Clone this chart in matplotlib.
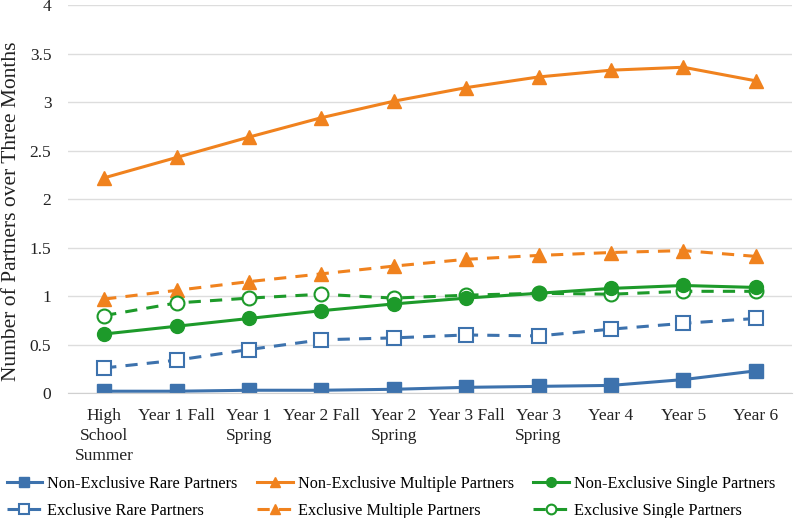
import matplotlib
matplotlib.use("Agg")
from matplotlib import pyplot as plt
import numpy as np

plt.rcParams['font.family'] = ['Liberation Serif', 'DejaVu Serif']

waves = ["High\nSchool\nSummer", "Year 1 Fall", "Year 1\nSpring", "Year 2 Fall",
         "Year 2\nSpring", "Year 3 Fall", "Year 3\nSpring", "Year 4", "Year 5", "Year 6"]

ne_rare = [0.02, 0.02, 0.03, 0.03, 0.04, 0.06, 0.07, 0.08, 0.14, 0.23]
ne_multiple = [2.22, 2.43, 2.64, 2.84, 3.01, 3.15, 3.26, 3.33, 3.36, 3.22]
ne_single = [0.61, 0.69, 0.77, 0.85, 0.92, 0.98, 1.03, 1.08, 1.11, 1.09]
ex_rare = [0.26, 0.34, 0.45, 0.55, 0.57, 0.60, 0.59, 0.66, 0.72, 0.77]
ex_multiple = [0.97, 1.06, 1.15, 1.23, 1.31, 1.38, 1.42, 1.45, 1.47, 1.41]
ex_single = [0.80, 0.93, 0.98, 1.02, 0.98, 1.01, 1.03, 1.02, 1.05, 1.05]

blue = '#3d72ad'
orange = '#f0821e'
green = '#1d9a2a'

x = np.arange(len(waves))

fig = plt.figure(figsize=(8, 5.18), dpi=100)
ax = fig.add_axes([0.085, 0.241, 0.905, 0.749])

lw = 2.2
dash = (0, (4, 3))
h_ner, = ax.plot(x, ne_rare, color=blue, lw=lw, marker='s', ms=10, label='Non-Exclusive Rare Partners')
h_er, = ax.plot(x, ex_rare, color=blue, lw=lw, ls=dash, marker='s', ms=10, mfc='white',
                mew=1.5, label='Exclusive Rare Partners')
h_nem, = ax.plot(x, ne_multiple, color=orange, lw=lw, marker='^', ms=10, label='Non-Exclusive Multiple Partners')
h_em, = ax.plot(x, ex_multiple, color=orange, lw=lw, ls=dash, marker='^', ms=10,
                label='Exclusive Multiple Partners')
h_es, = ax.plot(x, ex_single, color=green, lw=lw, ls=dash, marker='o', ms=10, mfc='white',
                mew=1.5, label='Exclusive Single Partners')
h_nes, = ax.plot(x, ne_single, color=green, lw=lw, marker='o', ms=10, label='Non-Exclusive Single Partners')

ax.set_ylim(0, 4)
ax.set_xlim(-0.5, 9.5)
ax.set_yticks(np.arange(0, 4.01, 0.5))
ax.set_yticklabels(['0', '0.5', '1', '1.5', '2', '2.5', '3', '3.5', '4'])
ax.set_xticks(x)
ax.set_xticklabels(waves, linespacing=1.3)
ax.tick_params(length=0, labelsize=12.5, colors='#222222')
ax.tick_params(axis='y', pad=12)
ax.tick_params(axis='x', pad=11)
ax.grid(axis='y', color='#dddddd', lw=1)
ax.set_axisbelow(True)
for s in ['top', 'right', 'left']:
    ax.spines[s].set_visible(False)
ax.spines['bottom'].set_color('#d0d0d0')
ax.set_ylabel('Number of Partners over Three Months', fontsize=15.5, color='#222222')
ax.yaxis.set_label_coords(-0.065, 0.47)

fig.legend(handles=[h_ner, h_er, h_nem, h_em, h_nes, h_es], ncol=3, loc='lower left',
           bbox_to_anchor=(-0.003, -0.019), frameon=False, fontsize=11.7, handlelength=2.2,
           markerscale=0.7, columnspacing=1.2, handletextpad=0.3, labelspacing=0.7,
           borderpad=0.05)

fig.savefig('out.png', dpi=100)
